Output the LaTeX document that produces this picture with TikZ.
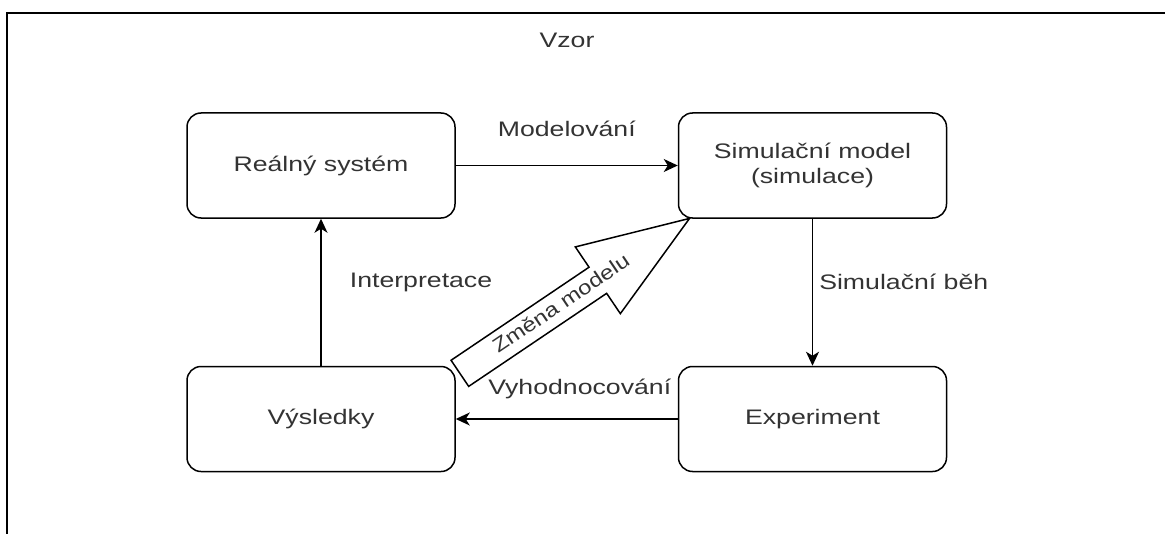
\documentclass[tikz,border=0pt]{standalone}
\usepackage{fontspec}
\setmainfont{Liberation Sans}[FakeStretch=1.27]
\newfontfamily\arrowfont{Liberation Sans}[FakeStretch=1.2]
\usepackage{tikz}
\usetikzlibrary{shapes.arrows, arrows.meta, positioning, calc}
\definecolor{mtext}{HTML}{333333}
\tikzstyle{block} = [rectangle, rounded corners=7pt, minimum width=134pt, minimum height=52.5pt, align=center, text=mtext, draw=black, line width=0.75pt]
\tikzstyle{lbl} = [inner sep=0pt, text=mtext]
\tikzstyle{flow} = [line width=0.75pt, -{Stealth[length=7pt, width=6.5pt, inset=2pt]}]
\tikzstyle{change} = [single arrow, draw=black, fill=white, line width=0.75pt, text=mtext, font=\arrowfont, minimum height=138.5pt, single arrow head extend=12.25pt, single arrow tip angle=40, text height=7.5pt, text depth=2pt, inner ysep=2.75pt, inner xsep=0pt]

\begin{document}
\begin{tikzpicture}[x=0.5pt, y=-0.5pt, font=\fontsize{10.5}{12.6}\selectfont]
  \useasboundingbox (0,0) rectangle (1165,534);
  % frame
  \draw [line width=1pt] (7,534) |- (1165,13);
  \node (vzor) [lbl] at (567,40) {Vzor};
  % boxes
  \node (real) [block] at (321,165.5) {Reálný systém};
  \node (sim) [block, right=111pt of real] {Simulační model\\(simulace)};
  \node (vys) [block, below=73.5pt of real] {Výsledky};
  \node (exp) [block, right=111pt of vys] {Experiment};
  % cycle
  \draw [flow] (real) -- node[lbl, yshift=18.5pt] {Modelování} (sim);
  \draw [flow] (sim) -- node[lbl, anchor=west, xshift=3pt, yshift=5pt] {Simulační běh} (exp);
  \draw [flow] (exp) -- node[lbl, xshift=6.5pt, yshift=15pt] {Vyhodnocování} (vys);
  \draw [flow] (vys) -- node[lbl, xshift=50pt, yshift=5pt] {Interpretace} (real);
  % big arrow, text runs on into the head
  \node (change) [change, rotate=34, anchor=tail] at ($(vys.north east)+(3.5,8)$) {\makebox[74pt][l]{Změna modelu}};
\end{tikzpicture}
\end{document}
